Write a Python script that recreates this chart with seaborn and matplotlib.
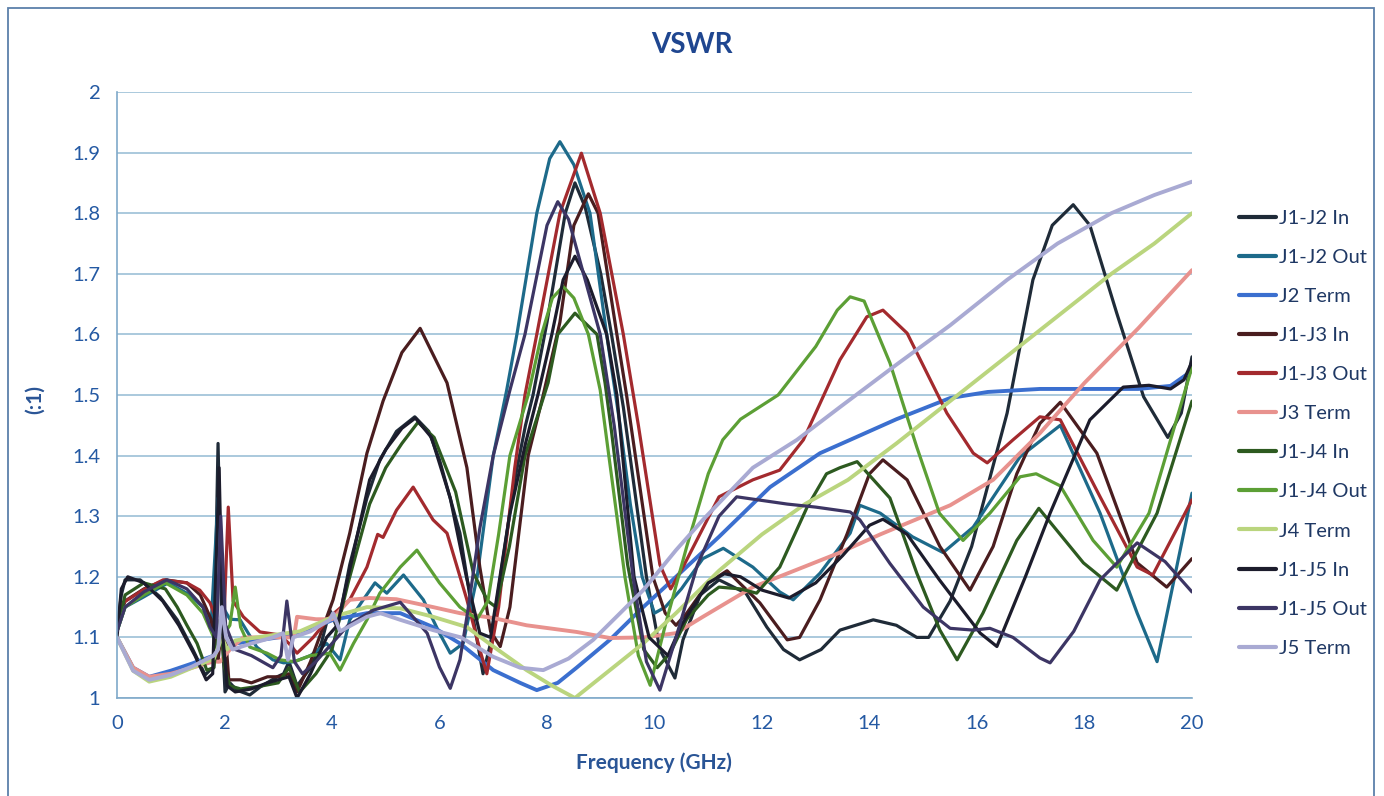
import matplotlib
matplotlib.use("Agg")
import matplotlib.pyplot as plt
import seaborn as sns
import pandas as pd
from matplotlib.patches import Rectangle

# ---------------- data (frequency GHz, VSWR) ----------------
series_names = ["J1-J2 In", "J1-J2 Out", "J2 Term", "J1-J3 In", "J1-J3 Out", "J3 Term",
                "J1-J4 In", "J1-J4 Out", "J4 Term", "J1-J5 In", "J1-J5 Out", "J5 Term"]

j1j2_in = [(0,1.11),(0.08,1.17),(0.15,1.195),(0.43,1.195),(0.8,1.167),(1.12,1.129),(1.41,1.08),(1.64,1.038),
           (1.73,1.046),(1.8,1.05),(1.88,1.42),(1.95,1.12),(2.01,1.01),(2.1,1.025),(2.23,1.013),(2.47,1.005),
           (2.66,1.018),(2.98,1.035),(3.1,1.04),(3.2,1.06),(3.35,1.02),(3.6,1.05),(3.8,1.09),(3.96,1.145),
           (4.1,1.115),(4.33,1.22),(4.65,1.33),(4.89,1.393),(5.2,1.44),(5.54,1.464),(5.8,1.44),(6.0,1.393),
           (6.38,1.272),(6.65,1.12),(6.81,1.04),(6.95,1.09),(7.1,1.18),(7.4,1.36),(7.6,1.45),(7.74,1.50),
           (8.0,1.62),(8.34,1.80),(8.52,1.85),(8.71,1.81),(9.0,1.70),(9.2,1.60),(9.42,1.48),(9.85,1.20),
           (10.1,1.08),(10.38,1.033),(10.53,1.096),(10.85,1.17),(11.2,1.195),(11.7,1.173),(12.09,1.117),
           (12.4,1.08),(12.7,1.063),(13.1,1.08),(13.45,1.112),(14.07,1.129),(14.5,1.12),(14.88,1.10),
           (15.1,1.10),(15.5,1.16),(15.9,1.25),(16.2,1.35),(16.56,1.47),(17.04,1.69),(17.4,1.78),
           (17.79,1.814),(18.1,1.78),(18.6,1.635),(19.1,1.497),(19.55,1.43),(19.8,1.47),(20,1.563)]

j1j2_out = [(0,1.11),(0.15,1.15),(0.5,1.167),(0.95,1.19),(1.3,1.173),(1.6,1.15),(1.75,1.12),(1.88,1.33),
            (1.97,1.15),(2.1,1.13),(2.29,1.129),(2.6,1.084),(2.9,1.063),(3.1,1.058),(3.3,1.06),(3.6,1.07),
            (3.9,1.09),(4.15,1.063),(4.33,1.129),(4.58,1.162),(4.8,1.19),(5.02,1.173),(5.33,1.203),(5.7,1.162),
            (6.0,1.107),(6.2,1.074),(6.44,1.09),(6.7,1.2),(7.0,1.40),(7.25,1.508),(7.44,1.60),(7.81,1.80),
            (8.05,1.89),(8.24,1.918),(8.5,1.88),(8.8,1.80),(9.11,1.60),(9.36,1.45),(9.55,1.32),(9.77,1.20),
            (10.0,1.14),(10.2,1.15),(10.5,1.18),(10.9,1.23),(11.28,1.247),(11.83,1.216),(12.33,1.175),
            (12.58,1.162),(13.08,1.206),(13.64,1.272),(13.82,1.318),(14.2,1.305),(14.8,1.266),(15.37,1.24),
            (15.93,1.282),(16.8,1.398),(17.55,1.45),(18.29,1.305),(18.98,1.14),(19.35,1.06),(20,1.338)]

j2_term = [(0,1.10),(0.3,1.05),(0.6,1.035),(1.0,1.045),(1.4,1.057),(1.8,1.07),(1.95,1.09),(2.05,1.08),
           (2.2,1.09),(2.6,1.095),(3.0,1.10),(3.4,1.107),(4.02,1.129),(4.65,1.14),(5.27,1.14),(5.88,1.117),
           (6.38,1.09),(7.0,1.046),(7.5,1.025),(7.81,1.013),(8.2,1.025),(8.55,1.05),(9.17,1.096),(9.79,1.15),
           (10.4,1.20),(11.2,1.266),(12.15,1.348),(13.08,1.404),(13.64,1.426),(14.5,1.46),(15.5,1.495),
           (16.2,1.505),(17.17,1.51),(18.0,1.51),(19.0,1.51),(19.6,1.515),(20,1.54)]

j1j3_in = [(0,1.12),(0.15,1.16),(0.5,1.18),(0.9,1.195),(1.3,1.19),(1.55,1.17),(1.75,1.13),(1.88,1.06),
           (1.98,1.15),(2.08,1.03),(2.3,1.03),(2.5,1.025),(2.8,1.035),(3.0,1.035),(3.2,1.04),(3.35,1.01),
           (3.6,1.06),(4.02,1.162),(4.33,1.272),(4.65,1.404),(4.95,1.49),(5.3,1.57),(5.64,1.61),(6.14,1.52),
           (6.51,1.38),(6.75,1.216),(6.95,1.11),(7.13,1.085),(7.31,1.15),(7.65,1.40),(7.93,1.50),(8.24,1.62),
           (8.5,1.78),(8.77,1.832),(8.95,1.80),(9.3,1.60),(9.48,1.50),(9.97,1.20),(10.2,1.14),(10.4,1.12),
           (10.6,1.14),(11.0,1.19),(11.35,1.21),(11.96,1.157),(12.47,1.096),(12.7,1.10),(13.08,1.162),
           (13.58,1.27),(14.0,1.37),(14.25,1.393),(14.7,1.36),(15.31,1.25),(15.87,1.178),(16.3,1.25),
           (16.74,1.37),(17.17,1.453),(17.55,1.488),(18.23,1.404),(18.98,1.223),(19.53,1.183),(20,1.23)]

j1j3_out = [(0,1.12),(0.11,1.157),(0.48,1.178),(0.86,1.195),(1.3,1.19),(1.54,1.178),(1.73,1.157),(1.85,1.13),
            (1.97,1.08),(2.07,1.315),(2.16,1.16),(2.35,1.134),(2.66,1.109),(3.03,1.104),(3.2,1.09),(3.35,1.074),
            (3.65,1.10),(3.96,1.134),(4.33,1.162),(4.65,1.216),(4.85,1.27),(4.95,1.265),(5.2,1.31),(5.51,1.348),
            (5.88,1.294),(6.14,1.272),(6.51,1.162),(6.75,1.08),(6.88,1.04),(7.1,1.15),(7.4,1.38),(7.59,1.50),
            (7.81,1.60),(8.24,1.80),(8.64,1.899),(8.99,1.80),(9.42,1.60),(9.7,1.45),(10.1,1.22),(10.3,1.18),
            (10.53,1.216),(11.2,1.332),(11.83,1.36),(12.33,1.376),(12.77,1.426),(13.45,1.558),(13.95,1.629),
            (14.25,1.64),(14.7,1.602),(15.44,1.47),(15.93,1.404),(16.19,1.388),(16.67,1.426),(17.17,1.464),
            (17.55,1.459),(18.29,1.332),(18.98,1.216),(19.27,1.203),(20,1.327)]

j3_term = [(0,1.10),(0.3,1.05),(0.6,1.035),(1.0,1.04),(1.4,1.05),(1.79,1.06),(1.92,1.06),(2.1,1.08),
           (2.35,1.10),(2.8,1.10),(3.2,1.10),(3.3,1.105),(3.35,1.134),(3.7,1.13),(4.0,1.13),(4.33,1.162),
           (4.7,1.165),(5.2,1.163),(5.88,1.15),(6.38,1.14),(7.0,1.132),(7.62,1.12),(8.55,1.109),(9.17,1.099),
           (9.8,1.10),(10.4,1.107),(10.9,1.134),(11.83,1.183),(12.77,1.216),(13.45,1.24),(14.2,1.27),
           (15.5,1.318),(16.3,1.36),(17.17,1.437),(18.0,1.52),(19.0,1.61),(20,1.706)]

j1j4_in = [(0,1.11),(0.15,1.17),(0.5,1.19),(0.9,1.18),(1.12,1.15),(1.3,1.12),(1.49,1.09),(1.67,1.046),
           (1.8,1.05),(1.92,1.13),(2.0,1.05),(2.1,1.02),(2.3,1.015),(2.7,1.02),(3.0,1.025),(3.2,1.05),
           (3.4,1.01),(3.7,1.04),(4.0,1.08),(4.3,1.19),(4.7,1.32),(5.0,1.38),(5.3,1.42),(5.6,1.455),(5.9,1.43),
           (6.3,1.34),(6.63,1.206),(6.9,1.16),(7.05,1.15),(7.3,1.25),(7.59,1.40),(8.02,1.52),(8.2,1.60),
           (8.52,1.635),(8.93,1.60),(9.08,1.52),(9.2,1.44),(9.5,1.22),(9.8,1.08),(10.05,1.05),(10.29,1.074),
           (10.6,1.13),(11.0,1.17),(11.2,1.183),(11.6,1.18),(11.9,1.173),(12.33,1.216),(12.84,1.315),
           (13.2,1.37),(13.45,1.38),(13.77,1.39),(14.38,1.33),(14.88,1.206),(15.31,1.112),(15.63,1.063),
           (16.11,1.14),(16.74,1.26),(17.15,1.313),(17.98,1.223),(18.6,1.178),(19.35,1.305),(20,1.49)]

j1j4_out = [(0,1.11),(0.15,1.15),(0.5,1.17),(0.9,1.19),(1.3,1.17),(1.6,1.14),(1.8,1.10),(1.95,1.10),
            (2.1,1.12),(2.2,1.183),(2.3,1.117),(2.47,1.084),(2.79,1.074),(3.03,1.063),(3.3,1.06),(3.6,1.07),
            (3.96,1.074),(4.15,1.046),(4.4,1.09),(4.65,1.129),(4.89,1.173),(5.27,1.216),(5.58,1.244),(6.0,1.19),
            (6.38,1.15),(6.7,1.13),(6.9,1.16),(7.1,1.27),(7.31,1.40),(7.65,1.50),(7.9,1.60),(8.1,1.66),
            (8.3,1.679),(8.5,1.66),(8.77,1.60),(8.99,1.508),(9.15,1.40),(9.45,1.20),(9.7,1.07),(9.92,1.021),
            (10.2,1.12),(10.6,1.25),(11.0,1.37),(11.27,1.426),(11.6,1.46),(12.3,1.50),(13.0,1.58),(13.4,1.64),
            (13.64,1.662),(13.9,1.655),(14.38,1.553),(14.88,1.414),(15.3,1.305),(15.74,1.26),(16.24,1.305),
            (16.8,1.365),(17.1,1.37),(17.55,1.35),(18.16,1.26),(18.6,1.216),(19.2,1.305),(20,1.546)]

j4_term = [(0,1.10),(0.3,1.045),(0.6,1.027),(1.0,1.035),(1.4,1.05),(1.8,1.065),(1.95,1.10),(2.05,1.08),
           (2.2,1.095),(2.6,1.10),(3.0,1.105),(3.4,1.11),(4.02,1.134),(4.65,1.15),(5.27,1.148),(5.88,1.134),
           (6.51,1.117),(7.0,1.085),(7.62,1.046),(8.1,1.02),(8.52,1.0),(9.17,1.046),(9.79,1.09),(10.4,1.14),
           (11.2,1.21),(12.0,1.27),(12.8,1.32),(13.6,1.36),(14.5,1.42),(15.5,1.49),(16.5,1.56),(17.5,1.63),
           (18.5,1.70),(19.3,1.75),(20,1.80)]

j1j5_in = [(0,1.10),(0.08,1.18),(0.2,1.20),(0.5,1.19),(0.85,1.16),(1.15,1.12),(1.45,1.07),(1.66,1.03),
           (1.78,1.04),(1.9,1.38),(1.97,1.10),(2.05,1.02),(2.2,1.01),(2.5,1.015),(2.8,1.025),(3.0,1.03),
           (3.2,1.035),(3.35,1.00),(3.6,1.04),(3.9,1.10),(4.1,1.12),(4.4,1.24),(4.7,1.36),(5.0,1.41),
           (5.3,1.445),(5.55,1.462),(5.85,1.43),(6.2,1.33),(6.5,1.20),(6.75,1.107),(6.95,1.10),(7.3,1.30),
           (7.6,1.42),(7.83,1.50),(8.09,1.60),(8.3,1.69),(8.52,1.729),(8.75,1.69),(9.11,1.60),(9.3,1.50),
           (9.62,1.20),(9.9,1.10),(10.25,1.07),(10.5,1.12),(11.0,1.19),(11.3,1.205),(11.6,1.20),(12.0,1.178),
           (12.5,1.165),(13.0,1.19),(13.5,1.235),(14.0,1.285),(14.25,1.295),(14.7,1.27),(15.3,1.195),
           (16.06,1.107),(16.37,1.085),(16.9,1.20),(17.36,1.305),(18.1,1.459),(18.72,1.513),(19.2,1.516),
           (19.6,1.51),(19.85,1.525),(20,1.555)]

j1j5_out = [(0,1.11),(0.15,1.15),(0.5,1.175),(0.93,1.195),(1.3,1.18),(1.6,1.15),(1.73,1.117),(1.85,1.10),
            (1.93,1.30),(2.02,1.12),(2.2,1.08),(2.5,1.07),(2.9,1.05),(3.05,1.07),(3.16,1.16),(3.3,1.06),
            (3.45,1.04),(3.7,1.06),(4.0,1.09),(4.3,1.12),(4.77,1.145),(5.27,1.158),(5.77,1.107),(6.0,1.051),
            (6.2,1.016),(6.38,1.063),(6.51,1.134),(6.75,1.28),(7.0,1.40),(7.31,1.508),(7.59,1.60),(8.0,1.78),
            (8.2,1.819),(8.4,1.79),(8.99,1.60),(9.25,1.45),(9.6,1.20),(9.85,1.06),(10.1,1.013),(10.4,1.10),
            (10.8,1.22),(11.2,1.30),(11.53,1.332),(12.47,1.32),(13.0,1.315),(13.64,1.307),(13.82,1.294),
            (14.38,1.222),(15.0,1.15),(15.5,1.115),(15.93,1.112),(16.24,1.115),(16.67,1.10),(17.17,1.066),
            (17.36,1.058),(17.8,1.11),(18.29,1.195),(18.98,1.256),(19.5,1.225),(20,1.175)]

j5_term = [(0,1.10),(0.3,1.045),(0.6,1.03),(1.0,1.038),(1.4,1.052),(1.8,1.07),(1.88,1.08),(1.95,1.15),
           (2.03,1.10),(2.15,1.08),(2.5,1.09),(2.9,1.10),(3.09,1.107),(3.18,1.063),(3.28,1.10),(3.6,1.11),
           (3.96,1.129),(4.02,1.14),(4.15,1.11),(4.65,1.134),(4.9,1.14),(5.27,1.129),(5.88,1.112),(6.4,1.10),
           (7.0,1.068),(7.5,1.05),(7.93,1.046),(8.4,1.065),(8.86,1.096),(9.36,1.14),(9.79,1.178),(10.4,1.244),
           (10.9,1.294),(11.83,1.38),(12.65,1.426),(13.45,1.48),(14.5,1.55),(15.5,1.615),(16.56,1.69),
           (17.5,1.75),(18.5,1.80),(19.3,1.83),(20,1.852)]

series_points = [j1j2_in, j1j2_out, j2_term, j1j3_in, j1j3_out, j3_term,
                 j1j4_in, j1j4_out, j4_term, j1j5_in, j1j5_out, j5_term]

series_colors = ["#1f2b38", "#1d6a8a", "#3b6fcf", "#4a1d1f", "#a32a2e", "#e8928e",
                 "#2d5a20", "#5c9f35", "#bad57e", "#1c1c2c", "#3c3564", "#a9aad3"]

x_ticks = [0, 2, 4, 6, 8, 10, 12, 14, 16, 18, 20]
y_ticks = [1.0, 1.1, 1.2, 1.3, 1.4, 1.5, 1.6, 1.7, 1.8, 1.9, 2.0]
y_tick_labels = ["1", "1.1", "1.2", "1.3", "1.4", "1.5", "1.6", "1.7", "1.8", "1.9", "2"]

# ---------------- build long table ----------------
rows = []
for name, pts in zip(series_names, series_points):
    for f, v in pts:
        rows.append((name, f, v))
df = pd.DataFrame(rows, columns=["series", "freq", "vswr"])

sns.set_theme(style="white")
plt.rcParams["font.family"] = ["Lato", "DejaVu Sans"]

W, H = 1384, 796
fig = plt.figure(figsize=(W / 100, H / 100), dpi=100)
fig.patch.set_facecolor("white")
ax = fig.add_axes([117 / W, 1 - 698 / H, (1192 - 117) / W, (698 - 92) / H])

sns.lineplot(data=df, x="freq", y="vswr", hue="series", hue_order=series_names,
             palette=dict(zip(series_names, series_colors)), estimator=None, sort=False,
             linewidth=2.3, ax=ax, legend=True)
for ln, name in zip(ax.get_lines(), series_names):
    if "Term" in name:
        ln.set_linewidth(2.8)

ax.set_xlim(0, 20)
ax.set_ylim(1, 2)
ax.set_xticks(x_ticks)
ax.set_xticklabels([str(t) for t in x_ticks])
ax.set_yticks(y_ticks)
ax.set_yticklabels(y_tick_labels)
ax.yaxis.grid(True, color="#93bad3", linewidth=1.1)
ax.xaxis.grid(False)
ax.set_axisbelow(True)
for s in ["top", "right"]:
    ax.spines[s].set_visible(False)
for s in ["left", "bottom"]:
    ax.spines[s].set_color("#7fa9c9")
    ax.spines[s].set_linewidth(1.2)
ax.tick_params(axis="both", length=0, labelsize=14.5, labelcolor="#2459a3", pad=12)
ax.set_xlabel("")
ax.set_ylabel("")

fig.text(692 / W, 1 - 45 / H, "VSWR", ha="center", va="center", fontsize=20,
         fontweight="bold", color="#1f4690")
fig.text(654 / W, 1 - 763 / H, "Frequency (GHz)", ha="center", va="center", fontsize=15,
         fontweight="bold", color="#2a5596")
fig.text(35 / W, 1 - 400 / H, "(:1)", ha="center", va="center", fontsize=15,
         fontweight="bold", color="#2a5596", rotation=90)

handles, labels = ax.get_legend_handles_labels()
leg = ax.legend(handles, labels, loc="upper left", bbox_to_anchor=(1231 / W, 1 - 202 / H),
                bbox_transform=fig.transFigure, frameon=False, fontsize=14.5,
                handlelength=1.85, handletextpad=0.15, labelspacing=1.09, borderaxespad=0)
for t in leg.get_texts():
    t.set_color("#1f3864")
for lh in leg.get_lines():
    lh.set_linewidth(3)

fig.add_artist(Rectangle((8 / W, -0.02), (1374 - 8) / W, 1 - 8 / H + 0.02, transform=fig.transFigure,
                         fill=False, edgecolor="#5c80aa", linewidth=1.3))

fig.savefig("out.png", dpi=100)
